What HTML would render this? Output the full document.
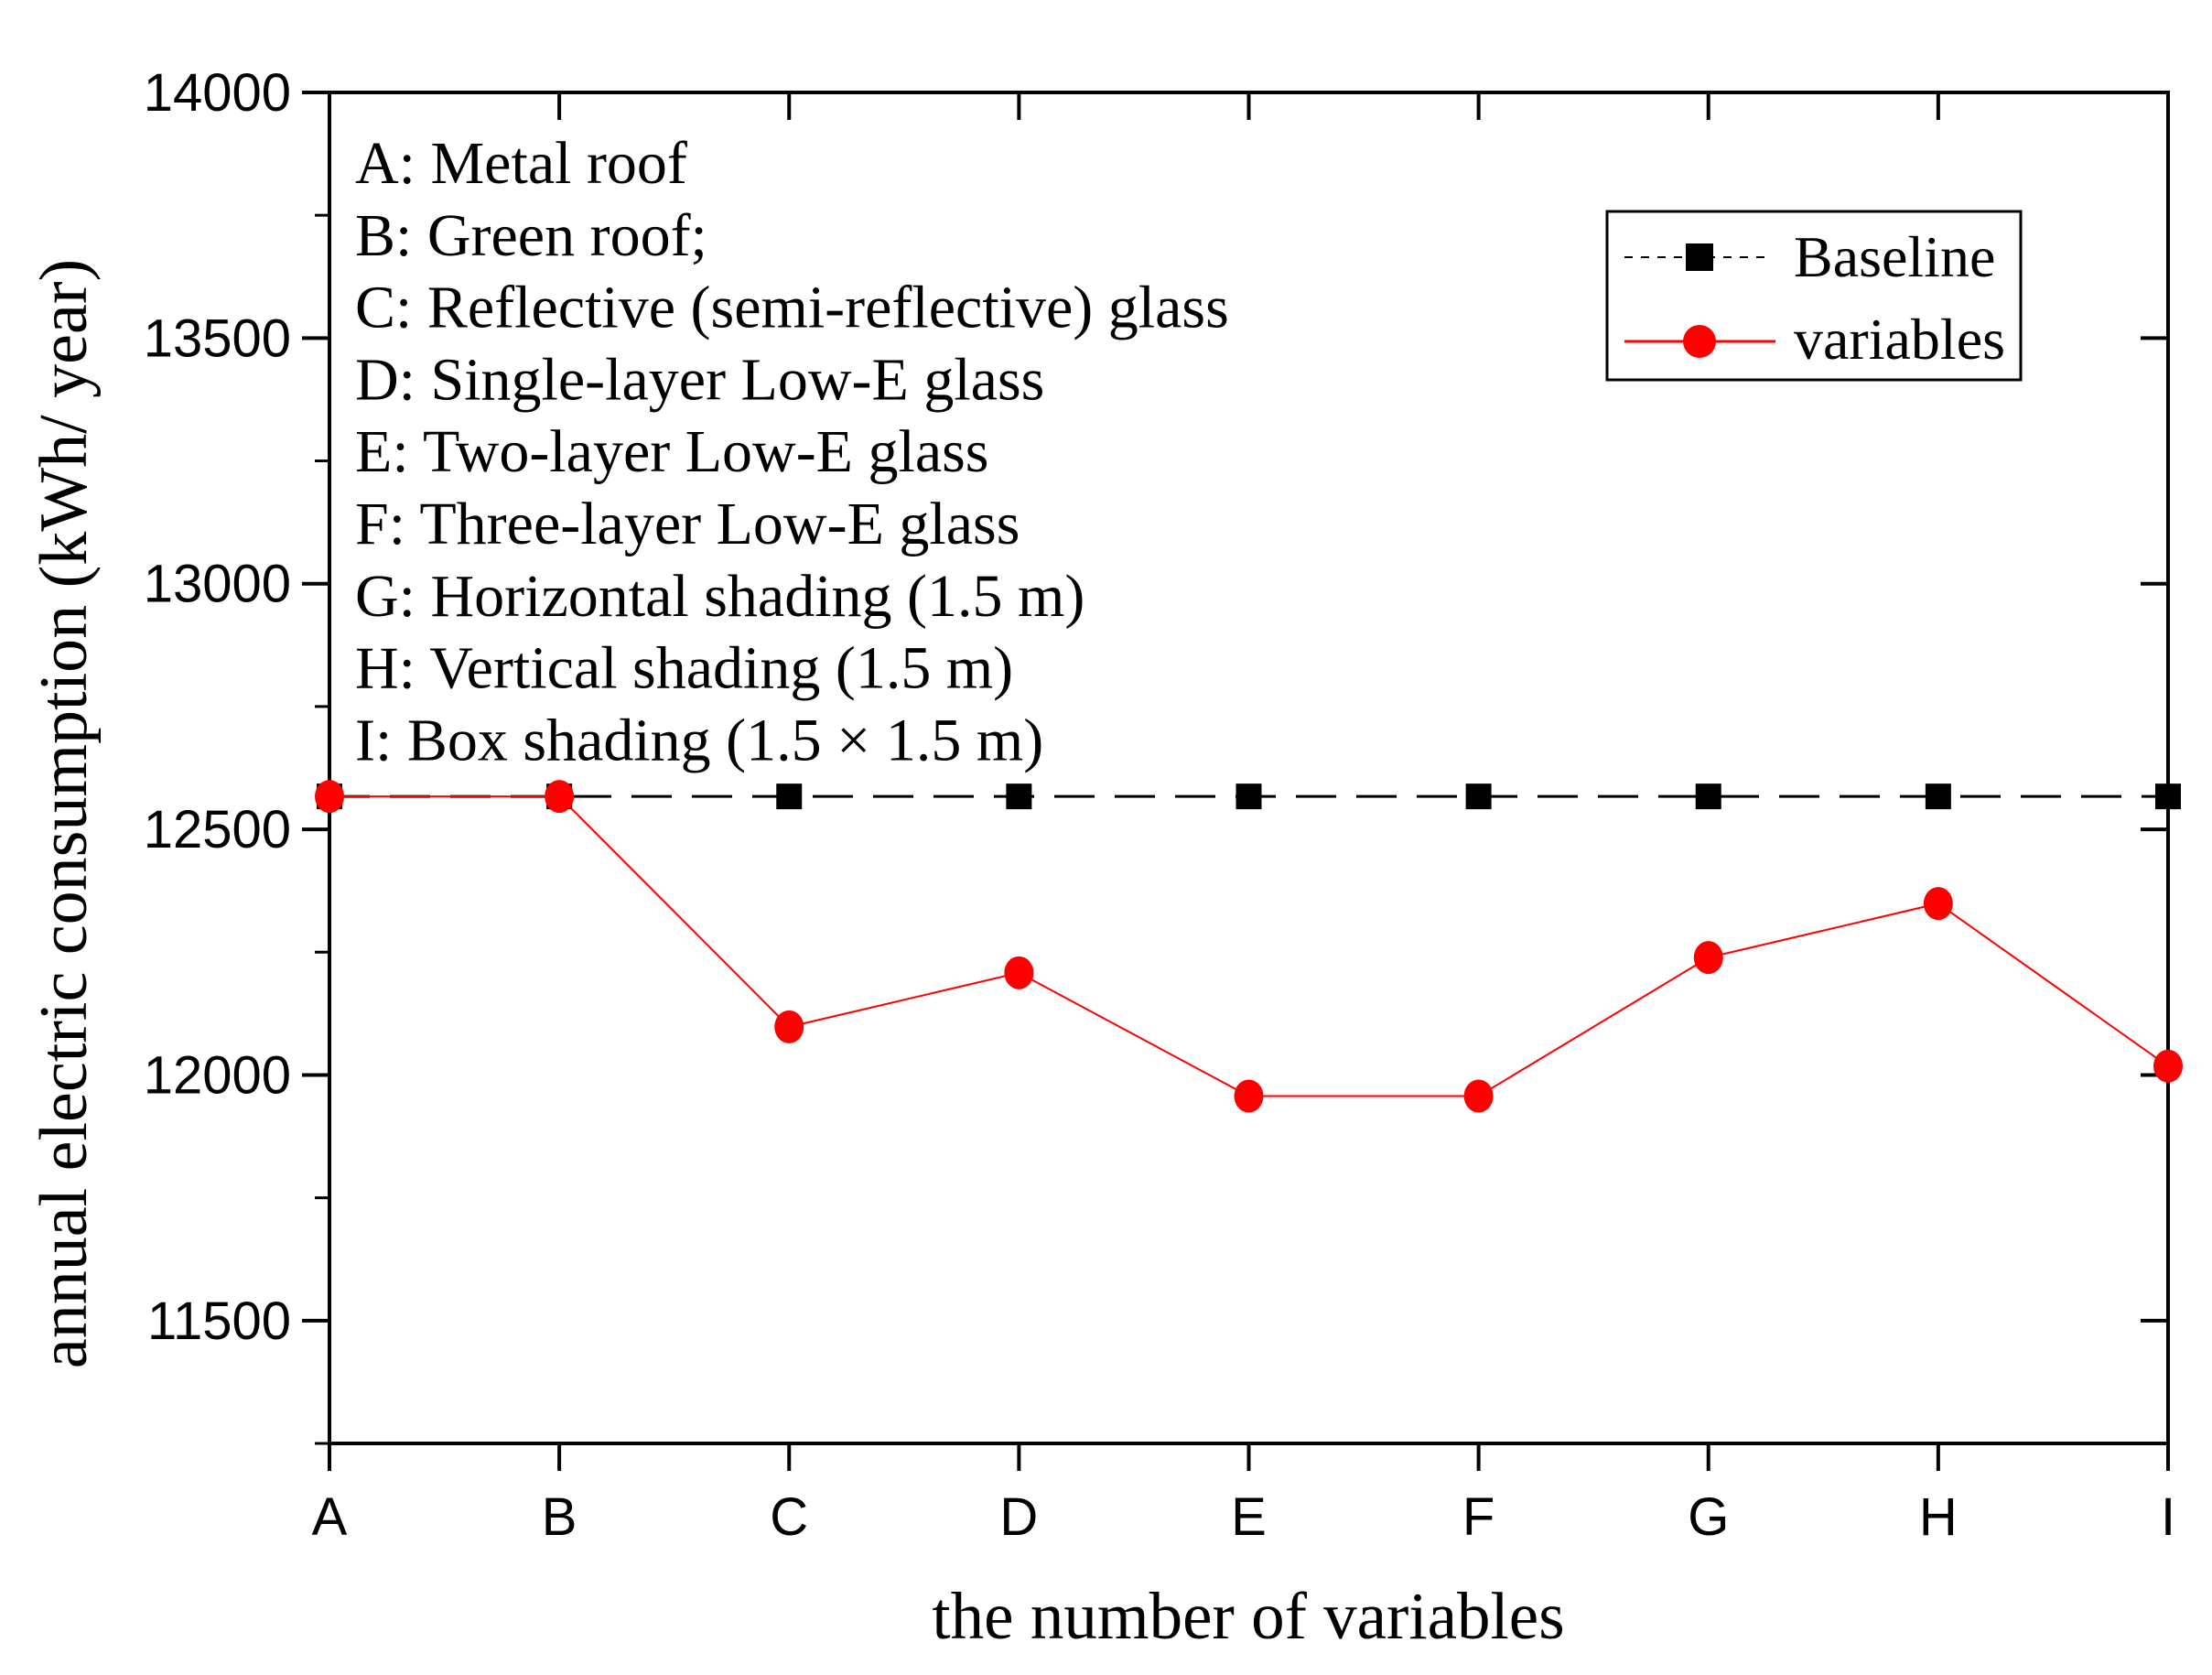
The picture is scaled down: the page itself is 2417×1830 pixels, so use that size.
<!DOCTYPE html>
<html><head><meta charset="utf-8"><style>
html,body{margin:0;padding:0;background:#fff}
svg{display:block}
.tk{font-family:"Liberation Sans",Arial,sans-serif;font-size:58px;fill:#000}
.tm{font-family:"Liberation Serif","Times New Roman",serif;fill:#000}
</style></head><body>
<svg id="chart" width="2417" height="1830" viewBox="0 0 2417 1830" xmlns="http://www.w3.org/2000/svg">
<g id="axes"></g>
<g id="series"></g>
</svg>
<script>
const categories = ["A","B","C","D","E","F","G","H","I"];
const baselineValues = [12567,12567,12567,12567,12567,12567,12567,12567,12567];
const variableValues = [12567,12567,12098,12208,11957,11957,12239,12349,12018];
const yTicks = [11500,12000,12500,13000,13500,14000];
const yMinorTicks = [11250,11750,12250,12750,13250,13750];
const notes = ["A: Metal roof","B: Green roof;","C: Reflective (semi-reflective) glass","D: Single-layer Low-E glass","E: Two-layer Low-E glass","F: Three-layer Low-E glass","G: Horizontal shading (1.5 m)","H: Vertical shading (1.5 m)","I: Box shading (1.5 \u00d7 1.5 m)"];

const L=360,R=2369,T=101,B=1577,yMin=11250,yMax=14000;
const xs=i=>L+i*(R-L)/(categories.length-1);
const ys=v=>B-(v-yMin)/(yMax-yMin)*(B-T);
const NS="http://www.w3.org/2000/svg";
function mk(tag,attrs,parent,text){const e=document.createElementNS(NS,tag);for(const k in attrs)e.setAttribute(k,attrs[k]);if(text!==undefined)e.textContent=text;parent.appendChild(e);return e;}
const ax=document.getElementById('axes'), se=document.getElementById('series');

let e=mk('rect',{x:L,y:T,width:R-L,height:B-T,fill:'none',stroke:'#000','stroke-width':4},ax);



yTicks.forEach(v=>{
  const y=ys(v);
  let t=mk('line',{x1:L-30,x2:L,y1:y,y2:y,stroke:'#000','stroke-width':4},ax);
  
  
  let t2=mk('line',{x1:R-30,x2:R,y1:y,y2:y,stroke:'#000','stroke-width':4},ax);
  
  
  let lb=mk('text',{x:L-42,y:y+20,'text-anchor':'end',class:'tk'},ax,String(v));
  
  
});
yMinorTicks.forEach(v=>{
  const y=ys(v);
  let t=mk('line',{x1:L-16,x2:L,y1:y,y2:y,stroke:'#000','stroke-width':3},ax);
  
  
});
categories.forEach((c,i)=>{
  const x=xs(i);
  let t=mk('line',{x1:x,x2:x,y1:B,y2:B+30,stroke:'#000','stroke-width':4},ax);
  
  
  let t2=mk('line',{x1:x,x2:x,y1:T,y2:T+30,stroke:'#000','stroke-width':4},ax);
  
  
  let lb=mk('text',{x:x,y:B+100,'text-anchor':'middle',class:'tk'},ax,c);
  
  
});

let xt=mk('text',{x:1364,y:1790,'text-anchor':'middle',class:'tm','font-size':73},ax,'the number of variables');


let yt=mk('text',{x:0,y:0,'text-anchor':'middle',class:'tm','font-size':74,transform:'translate(94,889) rotate(-90)'},ax,'annual electric consumption (kWh/ year)');



notes.forEach((n,i)=>{
  let t=mk('text',{x:388,y:200+i*78.8,class:'tm','font-size':66},ax,n);
  
  
});

let bl=mk('polyline',{points:baselineValues.map((v,i)=>xs(i)+','+ys(v)).join(' '),fill:'none',stroke:'#000','stroke-width':3,'stroke-dasharray':'44,22'},se);


baselineValues.forEach((v,i)=>{
  let r=mk('rect',{x:xs(i)-14,y:ys(v)-14,width:28,height:28,fill:'#000'},se);
  
  
});
let vl=mk('polyline',{points:variableValues.map((v,i)=>xs(i)+','+ys(v)).join(' '),fill:'none',stroke:'#f00','stroke-width':2},se);


variableValues.forEach((v,i)=>{
  let c=mk('ellipse',{cx:xs(i),cy:ys(v),rx:16,ry:18,fill:'#f00'},se);
  
  
});

const lg=mk('g',{},se);


mk('rect',{x:1756,y:231,width:452,height:184,fill:'#fff',stroke:'#000','stroke-width':3},lg);
let l1=mk('line',{x1:1775,x2:1930,y1:281,y2:281,stroke:'#000','stroke-width':2,'stroke-dasharray':'9,9'},lg);


mk('rect',{x:1842,y:266,width:30,height:30,fill:'#000'},lg);
let lt1=mk('text',{x:1960,y:302,class:'tm','font-size':64},lg,'Baseline');


let l2=mk('line',{x1:1775,x2:1940,y1:373,y2:373,stroke:'#f00','stroke-width':3},lg);


mk('ellipse',{cx:1857,cy:373,rx:18,ry:18,fill:'#f00'},lg);
let lt2=mk('text',{x:1960,y:392,class:'tm','font-size':64},lg,'variables');


</script>
</body></html>
